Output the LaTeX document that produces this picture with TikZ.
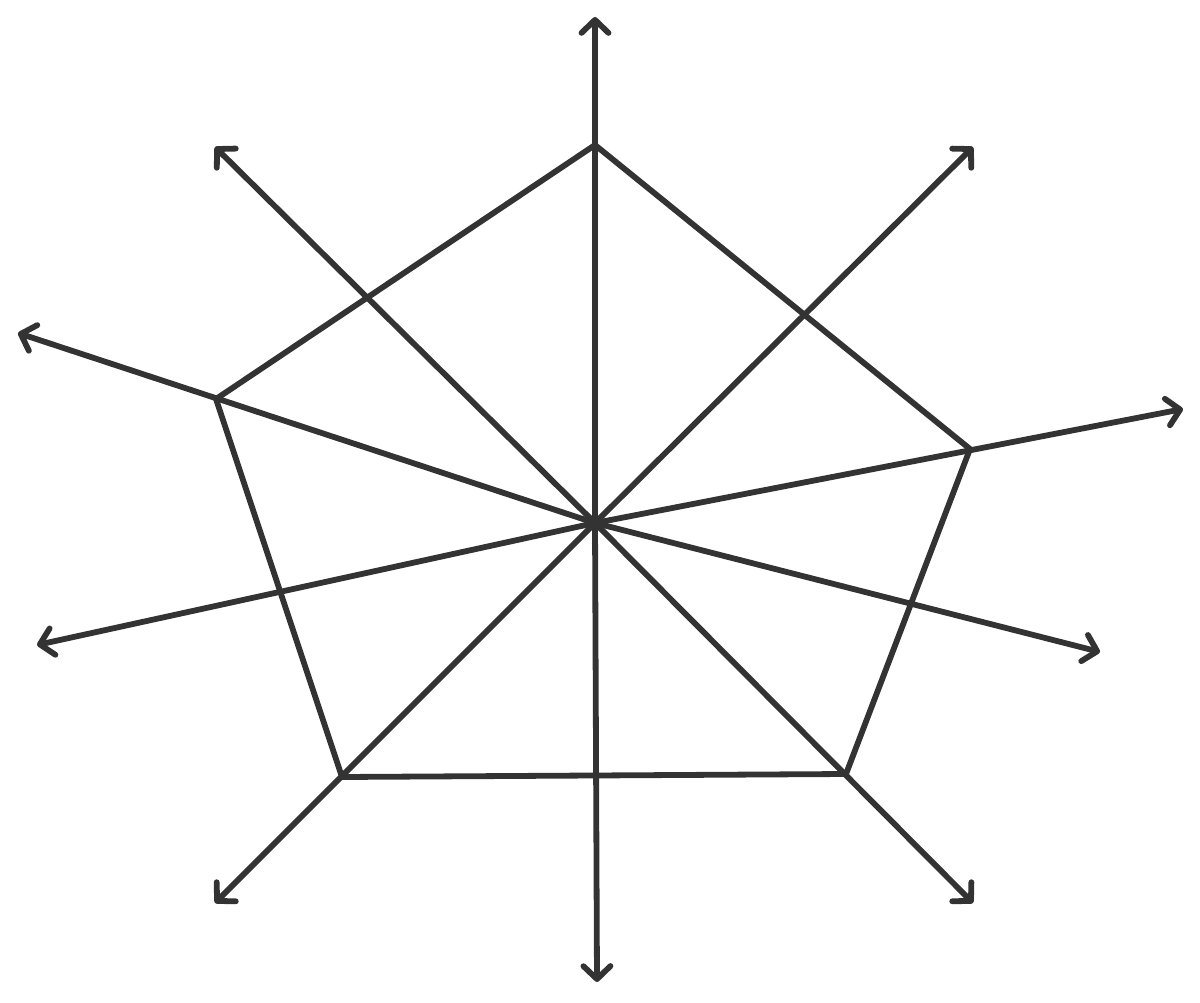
\documentclass[tikz,border=0pt]{standalone}
\usepackage{xcolor}
\usepackage{tikz}
\usetikzlibrary{arrows.meta}
\definecolor{inkgray}{HTML}{333333}
\tikzstyle{stroke} = [draw=inkgray, line width=3.3pt, line cap=round, line join=round]
\tikzset{
  % line styles
  side/.style={stroke},
  ray/.style={stroke, -{Straight Barb[length=2.6mm, width=5.4mm, round]}},
  % point styles
  corner/.style={coordinate},
}
\begin{document}
\begin{tikzpicture}[x=0.02cm, y=-0.02cm]
        \useasboundingbox (0,0) rectangle (1200,1003);
        % centre
        \coordinate (C) at (595,523);
        % pentagon corners
        \coordinate (P1) at (595,145);
        \coordinate (P2) at (970,449);
        \coordinate (P3) at (846,774);
        \coordinate (P4) at (342,777);
        \coordinate (P5) at (216,399);
        % ray ends
        \coordinate (UP) at (595,17);
        \coordinate (DN) at (597,982);
        \coordinate (NW) at (215,147);
        \coordinate (NE) at (973,147);
        \coordinate (SW) at (215,903);
        \coordinate (SE) at (973,903);
        \coordinate (WNW) at (18,333);
        \coordinate (WSW) at (37,645);
        \coordinate (ENE) at (1183,409);
        \coordinate (ESE) at (1100,652);
        % pentagon
        \draw[side] (P1) -- (P2) -- (P3) -- (P4) -- (P5) -- cycle;
        % rays
        \draw[ray] (C) -- (UP);
        \draw[ray] (C) -- (DN);
        \draw[ray] (C) -- (NW);
        \draw[ray] (C) -- (NE);
        \draw[ray] (C) -- (SW);
        \draw[ray] (C) -- (SE);
        \draw[ray] (C) -- (WNW);
        \draw[ray] (C) -- (WSW);
        \draw[ray] (C) -- (ENE);
        \draw[ray] (C) -- (ESE);
    \end{tikzpicture}
\end{document}
